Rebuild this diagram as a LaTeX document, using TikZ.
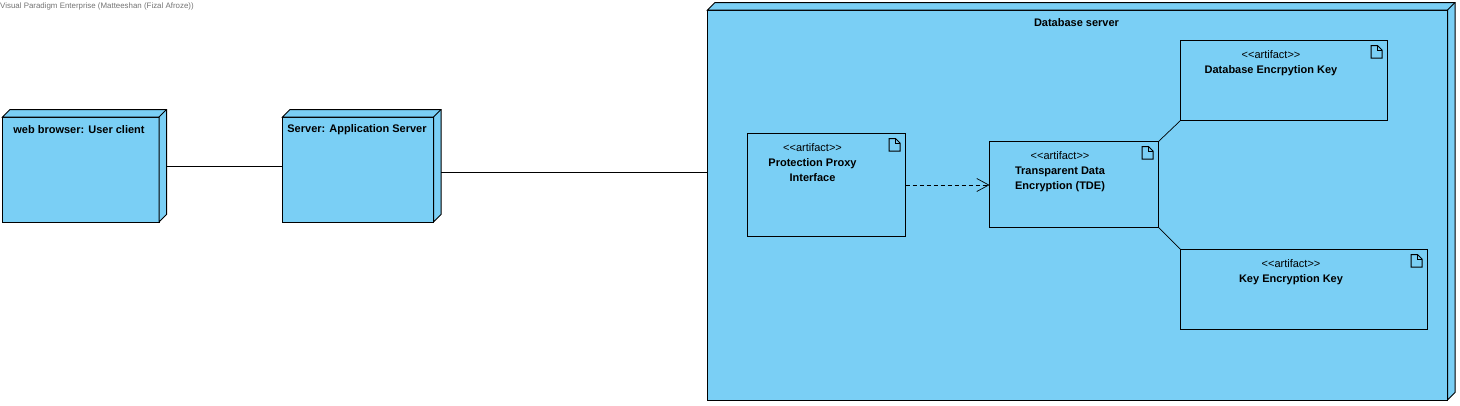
\documentclass[tikz,border=0pt]{standalone}
\usepackage{fontspec}
\setmainfont{Liberation Sans}
\usetikzlibrary{arrows.meta}
\definecolor{nodeblue}{RGB}{122,207,245}
\newcommand{\nodedepth}[1]{
  \draw [line width=1pt, fill=nodeblue] (#1.north west) -- ++(7.5,-7.5) -- ([xshift=7.5pt,yshift=7.5pt]#1.north east) -- ([xshift=7.5pt,yshift=7.5pt]#1.south east) -- (#1.south east) -- (#1.north east) -- cycle;
  \draw [line width=1pt] (#1.north east) -- ++(7.5,-7.5);
}
\tikzset{
  depnode/.style={draw, fill=nodeblue, inner sep=0pt, outer sep=0pt, anchor=north west, line width=1pt},
  artifact/.style={draw, inner sep=0pt, outer sep=0pt, anchor=north west, line width=1pt},
  title/.style={font=\fontsize{11}{13}\selectfont\bfseries, align=center, inner sep=0pt},
  arttext/.style={font=\fontsize{11}{15}\selectfont, align=center, inner sep=0pt, anchor=north},
  docicon/.pic={
    \draw [line width=1pt] (0,0) -- (6.5,0) -- (11,4.5) -- (11,12.5) -- (0,12.5) -- cycle;
    \draw [line width=0.6pt] (6.5,0) -- (6.5,4.5) -- (11,4.5);
  }
}

\begin{document}
\begin{tikzpicture}[x=1pt, y=-1pt]
  \useasboundingbox (0,0) rectangle (1460,405);

  \node (watermark) [anchor=west, inner sep=0pt, text=black!55, font=\fontsize{7.9}{9}\selectfont] at (0,6.5) {Visual Paradigm Enterprise (Matteeshan (Fizal Afroze))};

  % the three deployment nodes
  \node (web) [depnode, minimum width=156.5pt, minimum height=105pt] at (2.5,117) {};
  \node (server) [depnode, minimum width=151pt, minimum height=105pt] at (282.5,117) {};
  \node (db) [depnode, minimum width=740pt, minimum height=390pt] at (707.5,10) {};
  \nodedepth{web}
  \nodedepth{server}
  \nodedepth{db}

  \node (webtitle) [title] at (79,130) {web browser: User client};
  \node (servertitle) [title] at (357,130) {Server: Application Server};
  \node (dbtitle) [title] at (1076.5,23) {Database server};

  % artifacts inside the database server
  \node (proxy) [artifact, minimum width=158pt, minimum height=103pt] at (747.5,133.5) {};
  \node (tde) [artifact, minimum width=169pt, minimum height=86pt] at (989.5,141.5) {};
  \node (dbkey) [artifact, minimum width=207pt, minimum height=80pt] at (1180.5,40.5) {};
  \node (kek) [artifact, minimum width=247pt, minimum height=80pt] at (1180.5,249.5) {};

  \node (proxytext) [arttext] at (812.5,143) {<{}<artifact>{}>\\\textbf{Protection Proxy}\\\textbf{Interface}};
  \node (tdetext) [arttext] at (1060,151) {<{}<artifact>{}>\\\textbf{Transparent Data}\\\textbf{Encryption (TDE)}};
  \node (dbkeytext) [arttext] at (1271,50) {<{}<artifact>{}>\\\textbf{Database Encrpytion Key}};
  \node (kektext) [arttext] at (1291,259) {<{}<artifact>{}>\\\textbf{Key Encryption Key}};

  \pic at ([xshift=-16.5pt,yshift=-5pt]proxy.north east) {docicon};
  \pic at ([xshift=-16.5pt,yshift=-5pt]tde.north east) {docicon};
  \pic at ([xshift=-16.5pt,yshift=-5pt]dbkey.north east) {docicon};
  \pic at ([xshift=-16.5pt,yshift=-5pt]kek.north east) {docicon};

  % connectors
  \coordinate (webport) at (166.5,166.5);
  \coordinate (serverport) at (441,172.5);
  \draw [line width=1pt] (webport) -- (webport -| server.west);
  \draw [line width=1pt] (serverport) -- (serverport -| db.west);
  \draw [dashed, line width=0.7pt, dash pattern=on 4pt off 3pt, -{Straight Barb[length=12pt,width=13pt]}] (proxy.east) -- (proxy.east -| tde.west);
  \draw [line width=0.7pt] (tde.north east) -- (dbkey.south west);
  \draw [line width=0.7pt] (tde.south east) -- (kek.north west);
\end{tikzpicture}
\end{document}
